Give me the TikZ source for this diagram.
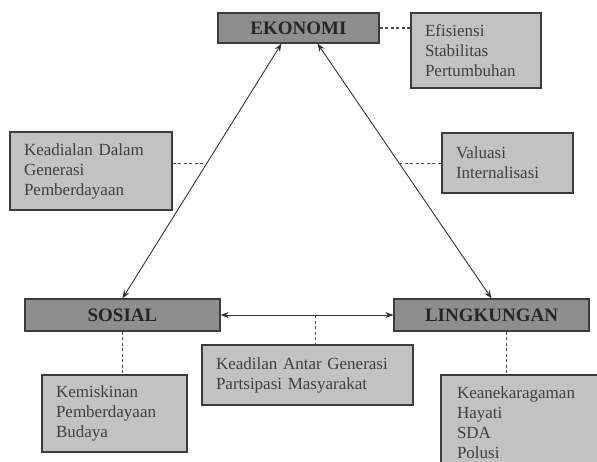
\documentclass[tikz,border=0pt]{standalone}
\usepackage{fontspec}
\setmainfont{Liberation Serif}
\usepackage{xcolor}
\usetikzlibrary{arrows.meta}
\definecolor{darkbox}{HTML}{8E8E8E}
\definecolor{lightbox}{HTML}{C2C2C2}
\definecolor{rim}{HTML}{3C3C3C}

\begin{document}
\begin{tikzpicture}[x=1pt,y=-1pt,>={Stealth[length=8pt,width=6pt]},thick,
    main box/.style={rectangle,draw=rim,line width=1.2pt,fill=darkbox,font=\fontsize{19}{20}\selectfont\bfseries,text=black!85,inner sep=0pt},
    side box/.style={rectangle,draw=rim,line width=1.2pt,fill=lightbox,font=\fontsize{17}{20}\selectfont,text=black!75,align=left,inner xsep=14pt,inner ysep=0pt},
    link/.style={draw=black!80,line width=0.9pt},
    dash link/.style={draw=black!70,line width=1.1pt,dash pattern=on 3pt off 2.5pt}]

                \useasboundingbox (0,0) rectangle (597,461);

                \node[main box, minimum width=161pt, minimum height=30pt] (1) at (298.5,28) {EKONOMI};
                \node[main box, minimum width=195pt, minimum height=32pt] (2) at (122.5,315) {SOSIAL};
                \node[main box, minimum width=195pt, minimum height=32pt] (3) at (491.5,315) {LINGKUNGAN};

                \node[side box, text width=102pt, minimum height=75pt] (4) at (476,50.5) {Efisiensi\\Stabilitas\\Pertumbuhan};
                \node[side box, text width=134pt, minimum height=78pt] (5) at (91,171) {Keadialan Dalam\\Generasi\\Pemberdayaan};
                \node[side box, text width=103pt, minimum height=60pt] (6) at (507.5,163) {Valuasi\\Internalisasi};
                \node[side box, text width=183pt, minimum height=60pt] (7) at (307.5,375) {Keadilan Antar Generasi\\Partsipasi Masyarakat};
                \node[side box, text width=117pt, minimum height=77pt] (8) at (114.5,413.5) {Kemiskinan\\Pemberdayaan\\Budaya};
                \node[side box, text width=132pt, minimum height=95pt, inner xsep=16pt] (9) at (523,422.5) {Keanekaragaman\\Hayati\\SDA\\Polusi};

                \draw[<->, link] ([xshift=-17pt]1.south) -- coordinate[pos=0.47] (a) (2.north);
                \draw[<->, link] ([xshift=19pt]1.south) -- coordinate[pos=0.47] (b) (3.north);
                \draw[<->, link] (2.east) -- coordinate[pos=0.55] (c) (3.west);

                \draw[dash link] (1.east) -- (1.east -| 4.west);
                \draw[dash link] (5.east |- a) -- (a);
                \draw[dash link] (b) -- (6.west |- b);
                \draw[dash link] (c) -- (c |- 7.north);
                \draw[dash link] (2.south) -- (2.south |- 8.north);
                \draw[dash link] ([xshift=15pt]3.south) -- ([xshift=15pt]3.south |- 9.north);

                ;
            \end{tikzpicture}
\end{document}
